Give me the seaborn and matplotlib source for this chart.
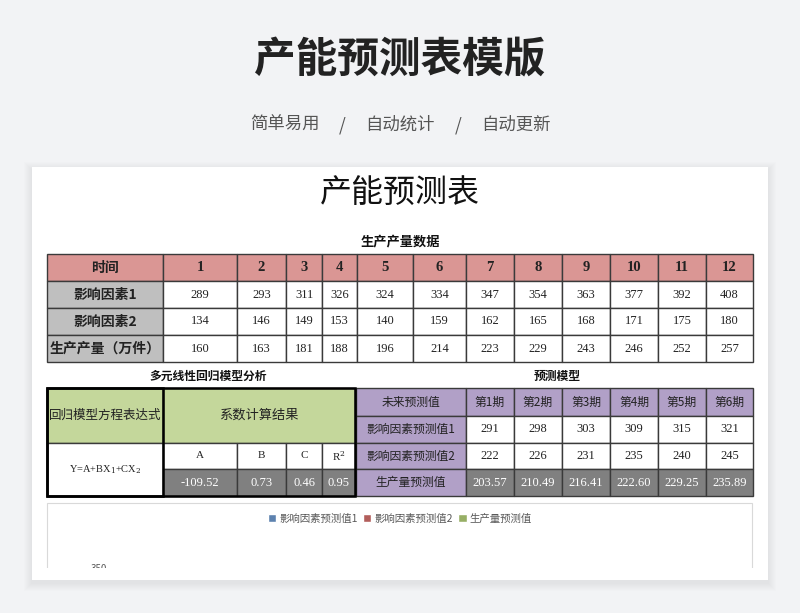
import matplotlib
matplotlib.use('Agg')
import matplotlib.pyplot as plt
import pandas as pd
import seaborn as sns
from matplotlib.patches import Rectangle

# Data
periods = ['1', '2', '3', '4', '5', '6', '7', '8', '9', '10', '11', '12']
factor1 = [289, 293, 311, 326, 324, 334, 347, 354, 363, 377, 392, 408]
factor2 = [134, 146, 149, 153, 140, 159, 162, 165, 168, 171, 175, 180]
output = [160, 163, 181, 188, 196, 214, 223, 229, 243, 246, 252, 257]
row_labels = ['时间', '影响因素1', '影响因素2', '生产产量（万件）']

coef_names = ['A', 'B', 'C', r'R$^2$']
coef_vals = [-109.52, 0.73, 0.46, 0.95]

fc_labels = ['未来预测值', '影响因素预测值1', '影响因素预测值2', '生产量预测值']
fc_periods = ['第1期', '第2期', '第3期', '第4期', '第5期', '第6期']
fc_factor1 = [291, 298, 303, 309, 315, 321]
fc_factor2 = [222, 226, 231, 235, 240, 245]
fc_output = [203.57, 210.49, 216.41, 222.60, 229.25, 235.89]

# Colours
BG = '#f2f3f5'
PINK = '#da9694'
LGREY = '#bfbfbf'
GREEN = '#c4d79b'
PURPLE = '#b1a0c7'
DGREY = '#808080'
LINE = '#3a3a3a'

sns.set_theme(style='white')
plt.rcParams['font.family'] = ['Noto Sans CJK SC', 'DejaVu Sans']
plt.rcParams['mathtext.fontset'] = 'dejavuserif'
SERIF = ['Liberation Serif', 'Noto Sans CJK SC']

fig = plt.figure(figsize=(8, 6.13), dpi=100)
fig.patch.set_facecolor(BG)
ax = fig.add_axes([0, 0, 1, 1])
ax.set_xlim(0, 800)
ax.set_ylim(613, 0)
ax.axis('off')


def cell(x0, x1, y0, y1, fill='white', text='', size=9, color='#222222',
         weight='normal', family=None, lw=1.0, ec=LINE):
    ax.add_patch(Rectangle((x0, y0), x1 - x0, y1 - y0, facecolor=fill,
                           edgecolor=ec, lw=lw, zorder=2))
    if text != '':
        kw = {}
        if family is not None:
            kw['family'] = family
        ax.text((x0 + x1) / 2, (y0 + y1) / 2, text, ha='center', va='center',
                fontsize=size, color=color, fontweight=weight, zorder=3, **kw)


# header
ax.text(400, 60, '产能预测表模版', ha='center', va='center', fontsize=30,
        fontweight='bold', color='#222222')
for xx, s in zip([285, 342, 400, 458, 516], ['简单易用', '/', '自动统计', '/', '自动更新']):
    ax.text(xx, 125, s, ha='center', va='center', fontsize=12.5, color='#555555')

# card with soft shadow
for k in range(1, 9):
    ax.add_patch(Rectangle((32 - k, 167 - k + 3), 736 + 2 * k, 413 + 2 * k,
                           facecolor='black', alpha=0.006, lw=0, zorder=0))
ax.add_patch(Rectangle((32, 167), 736, 413, facecolor='white', lw=0, zorder=1))
ax.text(400, 193, '产能预测表', ha='center', va='center', fontsize=23, color='#111111')

# table 1: production data
ax.text(400, 241, '生产产量数据', ha='center', va='center', fontsize=9.5,
        fontweight='bold', color='#111111')
col_edges = [47, 163, 237, 286, 322, 357, 413, 466, 514, 562, 610, 658, 706, 753]
row_edges = [254, 281, 308, 335, 362]
table_rows = [periods, factor1, factor2, output]
for r in range(4):
    y0, y1 = row_edges[r], row_edges[r + 1]
    head = PINK if r == 0 else LGREY
    cell(col_edges[0], col_edges[1], y0, y1, head, row_labels[r], size=10, weight='bold')
    for c in range(12):
        if r == 0:
            cell(col_edges[c + 1], col_edges[c + 2], y0, y1, PINK, table_rows[r][c],
                 size=10.5, weight='bold', family=SERIF)
        else:
            cell(col_edges[c + 1], col_edges[c + 2], y0, y1, 'white', str(table_rows[r][c]),
                 size=9, family=SERIF)

# left block: regression
ax.text(208, 376, '多元线性回归模型分析', ha='center', va='center', fontsize=8.5,
        fontweight='bold', color='#111111')
lx = [47, 163, 237, 286, 322, 355]
ly = [388, 443, 469, 496]
cell(lx[0], lx[1], ly[0], ly[1], GREEN, '回归模型方程表达式', size=9)
cell(lx[1], lx[5], ly[0], ly[1], GREEN, '系数计算结果', size=9.5)
cell(lx[0], lx[1], ly[1], ly[3], 'white', r'Y=A+BX$_1$+CX$_2$', size=7.5, family=SERIF)
for i in range(4):
    cell(lx[i + 1], lx[i + 2], ly[1], ly[2], 'white', coef_names[i], size=8, family=SERIF)
    cell(lx[i + 1], lx[i + 2], ly[2], ly[3], DGREY, f'{coef_vals[i]:.2f}', size=9,
         color='white', family=SERIF)
ax.add_patch(Rectangle((lx[0], ly[0]), lx[5] - lx[0], ly[3] - ly[0], facecolor='none',
                       edgecolor='black', lw=1.8, zorder=4))
ax.add_patch(Rectangle((lx[0], ly[0]), lx[1] - lx[0], ly[3] - ly[0], facecolor='none',
                       edgecolor='black', lw=1.8, zorder=4))

# right block: forecast
ax.text(557, 376, '预测模型', ha='center', va='center', fontsize=8.5,
        fontweight='bold', color='#111111')
rx = [356, 466, 514, 562, 610, 658, 706, 753]
ry = [388, 416, 443, 469, 496]
fc_rows = [fc_periods, fc_factor1, fc_factor2, fc_output]
for r in range(4):
    cell(rx[0], rx[1], ry[r], ry[r + 1], PURPLE, fc_labels[r], size=8.5)
    for c in range(6):
        v = fc_rows[r][c]
        if r == 0:
            cell(rx[c + 1], rx[c + 2], ry[r], ry[r + 1], PURPLE, v, size=8.5)
        elif r == 3:
            cell(rx[c + 1], rx[c + 2], ry[r], ry[r + 1], DGREY, f'{v:.2f}', size=9,
                 color='white', family=SERIF)
        else:
            cell(rx[c + 1], rx[c + 2], ry[r], ry[r + 1], 'white', str(v), size=9,
                 family=SERIF)

# chart panel frame
ax.add_patch(Rectangle((47, 503), 705, 120, facecolor='white', edgecolor='#d9d9d9',
                       lw=0.8, zorder=1.5))

# forecast chart (mostly cut off by the card edge)
chart_df = pd.DataFrame({
    '期': fc_periods * 3,
    '值': fc_factor1 + fc_factor2 + fc_output,
    '系列': ['影响因素预测值1'] * 6 + ['影响因素预测值2'] * 6 + ['生产量预测值'] * 6,
})
cax = fig.add_axes([115 / 800, 1 - 900 / 613, 625 / 800, 332 / 613], zorder=1)
sns.barplot(data=chart_df, x='期', y='值', hue='系列',
            palette=['#4f81bd', '#c0504d', '#9bbb59'], ax=cax)
cax.set_ylim(0, 350)
cax.set_yticks([350])
cax.tick_params(axis='y', labelsize=7, colors='#595959', length=0, pad=6)
cax.tick_params(axis='x', labelbottom=False, length=0)
cax.set_xlabel('')
cax.set_ylabel('')
cax.patch.set_alpha(0)
sns.despine(ax=cax, left=True, bottom=True)
cax.legend(loc='center', bbox_to_anchor=(400 / 800, 1 - 519 / 613),
           bbox_transform=fig.transFigure, ncol=3, frameon=False, fontsize=7.5,
           handlelength=0.8, handleheight=0.8, handletextpad=0.3, columnspacing=0.5,
           labelcolor='#595959')

# cover below the visible edge of the card
ov = fig.add_axes([0, 0, 1, 1], zorder=2)
ov.set_xlim(0, 800)
ov.set_ylim(613, 0)
ov.axis('off')
ov.patch.set_alpha(0)
ov.add_patch(Rectangle((0, 568), 800, 50, facecolor=BG, lw=0))
for k in range(1, 9):
    ov.add_patch(Rectangle((32 - k, 568), 736 + 2 * k, 12 + k + 3,
                           facecolor='black', alpha=0.008, lw=0))
ov.add_patch(Rectangle((32, 568), 736, 12, facecolor='white', lw=0))

fig.savefig('out.png', dpi=100, facecolor=BG)
